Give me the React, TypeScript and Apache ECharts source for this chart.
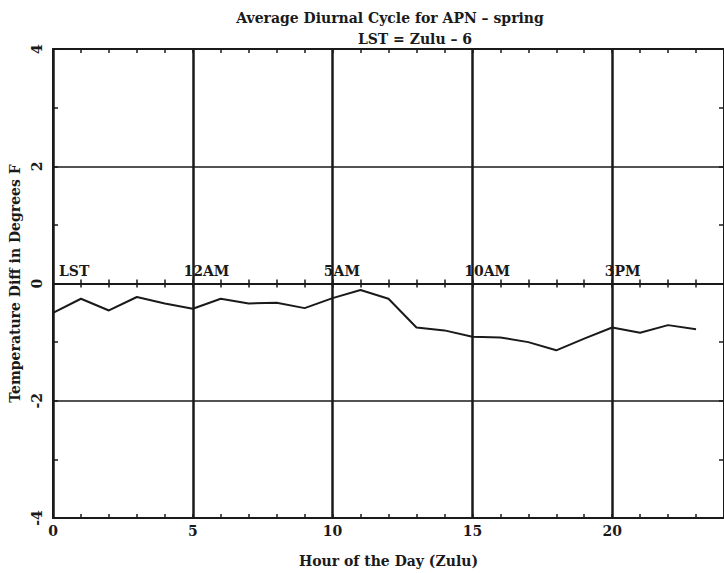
import React, { useEffect, useRef } from "react";
import * as echarts from "echarts";

const hours = [0, 1, 2, 3, 4, 5, 6, 7, 8, 9, 10, 11, 12, 13, 14, 15, 16, 17, 18, 19, 20, 21, 22, 23];
const tempDiff = [
  -0.5, -0.26, -0.46, -0.23, -0.34, -0.43, -0.26, -0.34, -0.33, -0.42, -0.25, -0.11,
  -0.26, -0.75, -0.8, -0.91, -0.92, -1.0, -1.14, -0.94, -0.75, -0.84, -0.71, -0.78,
];
const lstTickValues = [0, 5, 10, 15, 20];
const lstLabels = ["LST", "12AM", "5AM", "10AM", "3PM"];

const FONT = "DejaVu Serif";
const INK = "#1a1a1a";

const LEFT = 53;
const TOP = 49;
const W = 674;
const H = 469;

export default function App() {
  const ref = useRef<HTMLDivElement>(null);
  useEffect(() => {
    if (!ref.current) return;
    const chart = echarts.init(ref.current, undefined, { renderer: "svg" });
    const baseText = { fontFamily: FONT, fontWeight: "bold" as const, fontSize: 14, color: INK };
    const xCommon = { type: "value" as const, min: 0, max: 24, interval: 5 };
    const tickStyle = { color: INK, width: 1.5 };
    const hiddenY = (gridIndex: number) => ({
      type: "value" as const,
      gridIndex,
      min: -4,
      max: 4,
      show: false,
    });
    chart.setOption({
      animation: false,
      backgroundColor: "#ffffff",
      title: [
        {
          text: "Average Diurnal Cycle for APN – spring",
          left: 385,
          top: 6,
          textAlign: "center",
          textStyle: { ...baseText },
        },
        {
          text: "LST = Zulu – 6",
          left: 410,
          top: 27,
          textAlign: "center",
          textStyle: { ...baseText },
        },
      ],
      grid: [
        { left: LEFT, top: TOP, width: W, height: H },
        { left: LEFT, top: TOP, width: W, height: H / 2 },
        { left: LEFT, top: TOP + H / 2, width: W, height: H / 2 },
        { left: LEFT - 10, top: TOP, width: W, height: H / 2 },
      ],
      xAxis: [
        {
          ...xCommon,
          gridIndex: 0,
          position: "bottom",
          z: 2,
          name: "Hour of the Day (Zulu)",
          nameLocation: "middle",
          nameGap: 36,
          nameTextStyle: { ...baseText },
          axisLine: { onZero: false, lineStyle: { color: INK, width: 2 } },
          axisTick: { inside: true, length: 4, lineStyle: tickStyle },
          minorTick: { show: true, splitNumber: 5, length: 4, lineStyle: tickStyle },
          axisLabel: { ...baseText, margin: 6, showMaxLabel: false },
          splitLine: { show: true, lineStyle: { color: INK, width: 2.5 } },
        },
        {
          ...xCommon,
          gridIndex: 0,
          position: "top",
          axisLine: { onZero: false, lineStyle: { color: INK, width: 2 } },
          axisTick: { inside: true, length: 4, lineStyle: tickStyle },
          minorTick: { show: true, splitNumber: 5, length: 4, lineStyle: tickStyle },
          axisLabel: { show: false },
          splitLine: { show: false },
        },
        {
          ...xCommon,
          gridIndex: 1,
          position: "bottom",
          axisLine: { onZero: false, lineStyle: { color: INK, width: 2 } },
          axisTick: { inside: true, length: 4, lineStyle: tickStyle },
          minorTick: { show: true, splitNumber: 5, length: 4, lineStyle: tickStyle },
          axisLabel: { show: false },
          splitLine: { show: false },
        },
        {
          ...xCommon,
          gridIndex: 2,
          position: "top",
          axisLine: { onZero: false, lineStyle: { color: INK, width: 2 } },
          axisTick: { inside: true, length: 4, lineStyle: tickStyle },
          minorTick: { show: true, splitNumber: 5, length: 4, lineStyle: tickStyle },
          axisLabel: { show: false },
          splitLine: { show: false },
        },
        {
          ...xCommon,
          gridIndex: 3,
          position: "bottom",
          z: 0,
          axisLine: { show: false, onZero: false },
          axisTick: { show: false },
          minorTick: { show: false },
          splitLine: { show: false },
          axisLabel: {
            ...baseText,
            inside: true,
            margin: 6,
            align: "left",
            showMaxLabel: false,
            formatter: (v: number) => {
              const i = lstTickValues.indexOf(v);
              if (i < 0) return "";
              return i === 0 ? "{first|" + lstLabels[i] + "}" : lstLabels[i];
            },
            rich: { first: { ...baseText, padding: [0, 0, 0, 16] } },
          },
        },
      ],
      yAxis: [
        {
          type: "value",
          gridIndex: 0,
          position: "left",
          min: -4,
          max: 4,
          interval: 2,
          name: "Temperature Diff in Degrees F",
          nameLocation: "middle",
          nameRotate: 90,
          nameGap: 28,
          nameTextStyle: { ...baseText },
          axisLine: { show: true, onZero: false, lineStyle: { color: INK, width: 2 } },
          axisTick: { show: true, inside: true, length: 5, lineStyle: tickStyle },
          minorTick: { show: true, splitNumber: 2, length: 5, lineStyle: tickStyle },
          axisLabel: { ...baseText, rotate: 90, margin: 9 },
          splitLine: { show: true, lineStyle: { color: INK, width: 1.5 } },
        },
        {
          type: "value",
          gridIndex: 0,
          position: "right",
          min: -4,
          max: 4,
          interval: 2,
          axisLine: { show: true, onZero: false, lineStyle: { color: INK, width: 2 } },
          axisTick: { show: true, inside: true, length: 5, lineStyle: tickStyle },
          minorTick: { show: true, splitNumber: 2, length: 5, lineStyle: tickStyle },
          axisLabel: { show: false },
          splitLine: { show: false },
        },
        hiddenY(1),
        hiddenY(2),
        hiddenY(3),
      ],
      series: [
        {
          type: "line",
          xAxisIndex: 0,
          yAxisIndex: 0,
          data: hours.map((h, i) => [h, tempDiff[i]]),
          showSymbol: false,
          symbol: "none",
          lineStyle: { color: INK, width: 2 },
          z: 5,
        },
      ],
    });
    return () => chart.dispose();
  }, []);
  return (
    <div
      ref={ref}
      style={{ position: "fixed", left: 0, top: 0, width: 724, height: 573, background: "#fff" }}
    />
  );
}
